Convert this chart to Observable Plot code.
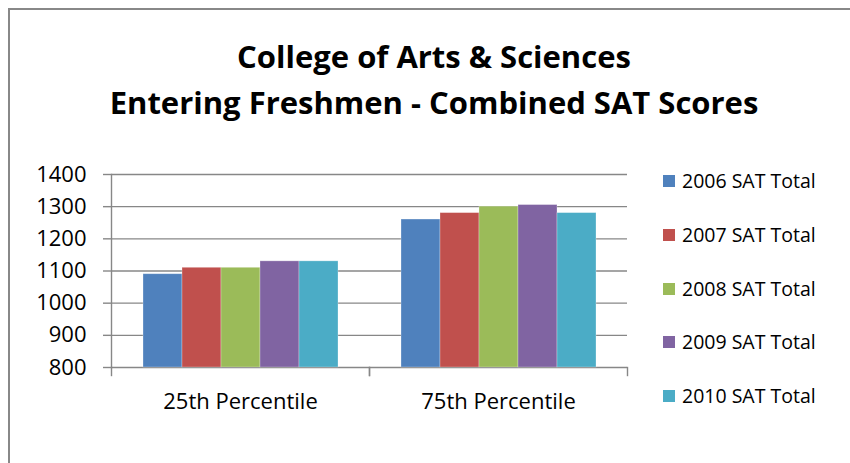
<!DOCTYPE html>
<html>
<head>
<meta charset="utf-8">
<script src="https://cdn.jsdelivr.net/npm/d3@7"></script>
<script src="https://cdn.jsdelivr.net/npm/@observablehq/plot@0.6"></script>
<style>
  html, body { margin: 0; padding: 0; background: #fff; overflow: hidden; width: 850px; height: 463px; }
  #chart { position: relative; width: 850px; height: 463px; overflow: hidden; background: #fff; font-family: "Open Sans", sans-serif; }
  .border { position: absolute; left: 8px; top: 8px; width: 860px; height: 470px; border-top: 2px solid #888; border-left: 2px solid #888; }
  .title { position: absolute; left: 18px; width: 832px; top: 33px; text-align: center; font-weight: bold; font-size: 31px; line-height: 46px; color: #000; }
  #plot { position: absolute; left: 0; top: 160px; }
  #legend { position: absolute; left: 663px; top: 181px; }
  .item { position: absolute; left: 0; height: 0; white-space: nowrap; }
  .sw { position: absolute; left: 0; top: -6px; width: 12px; height: 12px; }
  .lab { position: absolute; left: 19px; top: -14px; line-height: 28px; font-size: 19.5px; color: #000; }
</style>
</head>
<body>
<div id="chart">
  <div class="border"></div>
  <div class="title">College of Arts &amp; Sciences<br>Entering Freshmen - Combined SAT Scores</div>
  <div id="plot"></div>
  <div id="legend"></div>
</div>
<script>
const categories = ["25th Percentile", "75th Percentile"];
const series = ["2006 SAT Total", "2007 SAT Total", "2008 SAT Total", "2009 SAT Total", "2010 SAT Total"];
const values2006 = [1090, 1260];
const values2007 = [1110, 1280];
const values2008 = [1110, 1300];
const values2009 = [1130, 1305];
const values2010 = [1130, 1280];
const colors = ["#4F81BD", "#C0504D", "#9BBB59", "#8064A2", "#4BACC6"];
const yTicks = [800, 900, 1000, 1100, 1200, 1300, 1400];

const seriesValues = [values2006, values2007, values2008, values2009, values2010];
const data = [];
categories.forEach((c, ci) => {
  series.forEach((s, si) => data.push({category: c, series: s, value: seriesValues[si][ci]}));
});

const W = 640, H = 260, mT = 14, mB = 53, mL = 111, mR = 13;
const gridColor = "#878787";

const chart = Plot.plot({
  width: W, height: H,
  marginTop: mT, marginBottom: mB, marginLeft: mL, marginRight: mR,
  style: {fontFamily: "Open Sans, sans-serif", fontSize: "22px", color: "#000", background: "transparent", overflow: "visible"},
  fx: {domain: categories, padding: 0, label: null},
  x: {domain: series, paddingInner: 0, paddingOuter: 0.76, axis: null},
  y: {domain: [yTicks[0], yTicks[yTicks.length - 1]], label: null},
  color: {domain: series, range: colors},
  marks: [
    Plot.gridY(yTicks, {stroke: gridColor, strokeOpacity: 1, strokeWidth: 1.4}),
    Plot.barY(data, {fx: "category", x: "series", y1: yTicks[0], y2: "value", fill: "series", stroke: "#ffffff", strokeOpacity: 0.35, strokeWidth: 0.8}),
    Plot.frame({anchor: "left", facetAnchor: "left", stroke: gridColor, strokeWidth: 1.4}),
    Plot.frame({anchor: "left", stroke: gridColor, strokeWidth: 1.4, insetTop: H - mT - mB, insetBottom: -8}),
    Plot.frame({anchor: "right", stroke: gridColor, strokeWidth: 1.4, insetTop: H - mT - mB, insetBottom: -8}),
    Plot.axisY(yTicks, {tickSize: 8, tickPadding: 17, stroke: gridColor, strokeWidth: 1.4, fontSize: 22, tickFormat: d => String(d)}),
    Plot.axisFx({anchor: "bottom", tickSize: 0, tickPadding: 26, fontSize: 22, label: null})
  ]
});
document.getElementById("plot").appendChild(chart);

const legend = document.getElementById("legend");
series.forEach((s, i) => {
  const item = document.createElement("div");
  item.className = "item";
  item.style.top = (i * 53.75) + "px";
  const sw = document.createElement("div");
  sw.className = "sw";
  sw.style.background = colors[i];
  const lab = document.createElement("div");
  lab.className = "lab";
  lab.textContent = s;
  item.appendChild(sw);
  item.appendChild(lab);
  legend.appendChild(item);
});
</script>
</body>
</html>
